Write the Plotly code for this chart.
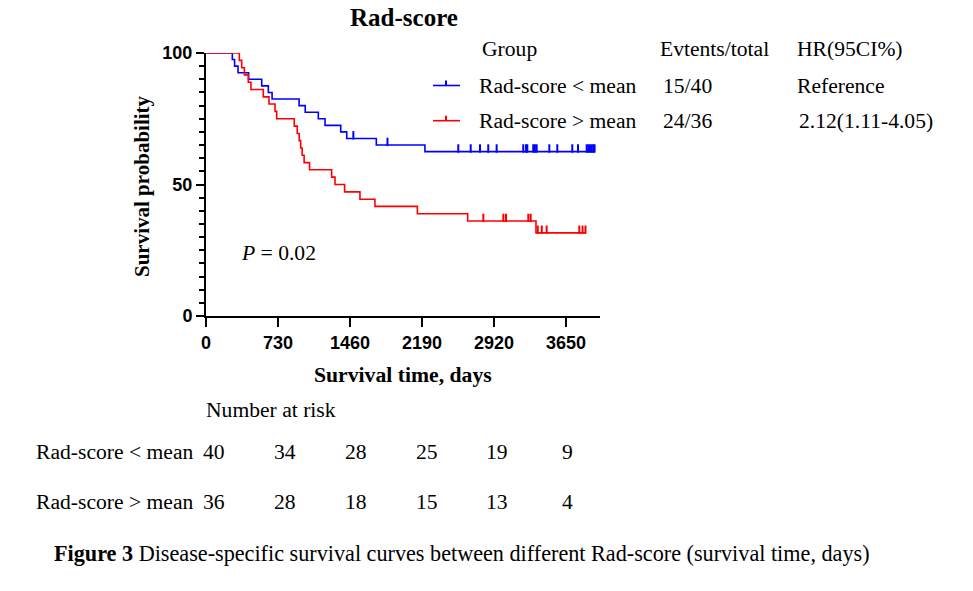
import numpy as np
import plotly.graph_objects as go

# ---------------- data ----------------
low_event_days = [267, 290, 325, 432, 565, 632, 670, 944, 1006, 1139, 1207, 1366, 1427, 1727, 2220]
low_event_surv = [97.5, 95, 92.5, 90, 87.5, 85, 82.5, 80, 77.5, 75, 72.5, 70, 67.5, 65, 62.5]
low_censor_days = [1494, 1840, 2558, 2684, 2778, 2862, 2947, 3217, 3245, 3258, 3318, 3335, 3353,
                   3481, 3562, 3714, 3772, 3860, 3876, 3893, 3911, 3927, 3940]

high_event_days = [338, 362, 389, 429, 456, 581, 639, 700, 717, 895, 925, 945, 960, 975, 995,
                   1050, 1274, 1308, 1405, 1561, 1713, 2143, 2653, 3346]
high_event_surv = [97.2, 94.4, 91.7, 88.9, 86.1, 83.3, 80.6, 77.8, 75.0, 72.2, 69.4, 66.7, 63.9,
                   61.1, 58.3, 55.6, 52.8, 50.0, 47.2, 44.4, 41.7, 38.9, 36.1, 31.6]
high_censor_days = [2812, 3015, 3042, 3268, 3292, 3364, 3405, 3454, 3785, 3818, 3848]

group_names = ["Rad-score < mean", "Rad-score > mean"]
events_total = ["15/40", "24/36"]
hr_text = ["Reference", "2.12(1.11-4.05)"]
x_ticks = [0, 730, 1460, 2190, 2920, 3650]
y_ticks = [0, 50, 100]
risk_low = [40, 34, 28, 25, 19, 9]
risk_high = [36, 28, 18, 15, 13, 4]
p_value = "0.02"

BLUE = "#0000FF"
RED = "#FF0000"
SERIF = "Liberation Serif"
SANS = "Liberation Sans"

# ---------------- layout geometry (pixels of the target window) ----------------
WIN_W, WIN_H = 973, 591
PAGE = 8                      # default page margin around the figure
W, H = WIN_W - PAGE, WIN_H - PAGE
L, R, T, B = 206, 600, 53, 316  # plot area in window pixels
XMAX = 3995
FS = 21.6


def px_x(p):
    return (p - L) / (R - L)


def px_y(p):
    return (B - p) / (B - T)


def step_curve(ev_days, ev_surv, cens_days):
    xs = [0] + list(ev_days) + [max(list(ev_days) + list(cens_days))]
    ys = [100] + list(ev_surv) + [ev_surv[-1]]
    return xs, ys


def level_at(ev_days, ev_surv, days):
    idx = np.searchsorted(np.array(ev_days), np.array(days), side="right")
    lv = np.concatenate([[100.0], np.array(ev_surv, dtype=float)])
    return lv[idx]


TICK_UP = 1.2  # censor tick drawn just above the curve (data units)

fig = go.Figure()
for ev_d, ev_s, c_d, col in [
    (low_event_days, low_event_surv, low_censor_days, BLUE),
    (high_event_days, high_event_surv, high_censor_days, RED),
]:
    xs, ys = step_curve(ev_d, ev_s, c_d)
    fig.add_trace(go.Scatter(x=xs, y=ys, mode="lines", line=dict(color=col, width=1.6, shape="hv"),
                             showlegend=False, cliponaxis=False, hoverinfo="skip"))
    cy = level_at(ev_d, ev_s, c_d) + TICK_UP
    fig.add_trace(go.Scatter(x=c_d, y=cy, mode="markers",
                             marker=dict(symbol="line-ns", size=6, line=dict(color=col, width=2)),
                             showlegend=False, cliponaxis=False, hoverinfo="skip"))

ann = []


def text(s, x, y, size=FS, anchor="left", bold=False, family=SERIF):
    ann.append(dict(text=s, x=px_x(x), y=px_y(y), xref="paper", yref="paper",
                    xanchor=anchor, yanchor="middle", showarrow=False,
                    font=dict(family=family, size=size, color="black",
                              weight="bold" if bold else "normal")))


# legend table
text("Group", 480, 49)
text("Evtents/total", 658, 49)
text("HR(95CI%)", 795, 49)
for i, yy in enumerate([86, 121]):
    text(group_names[i], 477, yy)
    text(events_total[i], 661, yy)
    text(hr_text[i], 795 + 2 * i, yy)

# p value
text("<i>P</i> = " + p_value, 239, 253)

# number at risk
text("Number at risk", 204, 410)
risk_cols = [214, 285, 356, 427, 497, 567]
for i, yy in enumerate([452, 502]):
    text(group_names[i], 34, yy)
    vals = risk_low if i == 0 else risk_high
    for cx, v in zip(risk_cols, vals):
        text(str(v), cx, yy, anchor="center")

# caption
text("<b>Figure 3</b> Disease-specific survival curves between different Rad-score (survival time, days)",
     52, 553, size=22.2)

# y title
ann.append(dict(text="Survival probability", x=px_x(142), y=px_y(186), xref="paper", yref="paper",
                textangle=-90, showarrow=False, xanchor="center", yanchor="middle",
                font=dict(family=SERIF, size=21, color="black", weight="bold")))
# x title
ann.append(dict(text="Survival time, days", x=px_x(403), y=px_y(375), xref="paper", yref="paper",
                showarrow=False, xanchor="center", yanchor="middle",
                font=dict(family=SERIF, size=21.7, color="black", weight="bold")))

# legend samples
shapes = []
for col, yy in [(BLUE, 85.5), (RED, 120.7)]:
    shapes.append(dict(type="line", xref="paper", yref="paper", x0=px_x(433), x1=px_x(460),
                       y0=px_y(yy), y1=px_y(yy), line=dict(color=col, width=1.6)))
    shapes.append(dict(type="line", xref="paper", yref="paper", x0=px_x(446), x1=px_x(446),
                       y0=px_y(yy), y1=px_y(yy - 5), line=dict(color=col, width=2)))

fig.update_layout(
    template="none",
    width=W, height=H,
    margin=dict(l=L - PAGE, r=WIN_W - R, t=T - PAGE, b=WIN_H - B, pad=0),
    paper_bgcolor="white", plot_bgcolor="white",
    title=dict(text="<b>Rad-score</b>", x=(404 - PAGE) / W, y=1.0,
               xref="container", yref="container", xanchor="center", yanchor="top",
               font=dict(family=SERIF, size=25, color="black")),
    annotations=ann, shapes=shapes, showlegend=False,
)
fig.update_xaxes(range=[0, XMAX], showline=True, linecolor="black", linewidth=2,
                 ticks="outside", ticklen=9, tickwidth=2, tickcolor="black",
                 tickvals=x_ticks, ticktext=[str(v) for v in x_ticks],
                 tickfont=dict(family=SANS, size=18, color="black", weight="bold"),
                 showgrid=False, zeroline=False, automargin=False, fixedrange=True)
fig.update_yaxes(range=[0, 100], showline=True, linecolor="black", linewidth=2,
                 ticks="outside", ticklen=8, tickwidth=2, tickcolor="black",
                 tickvals=y_ticks, ticktext=[str(v) for v in y_ticks],
                 minor=dict(dtick=5, tick0=0, ticks="outside", ticklen=5, tickwidth=2, tickcolor="black"),
                 tickfont=dict(family=SANS, size=18, color="black", weight="bold"),
                 showgrid=False, zeroline=False, automargin=False, fixedrange=True)

fig.write_html("out.html")
